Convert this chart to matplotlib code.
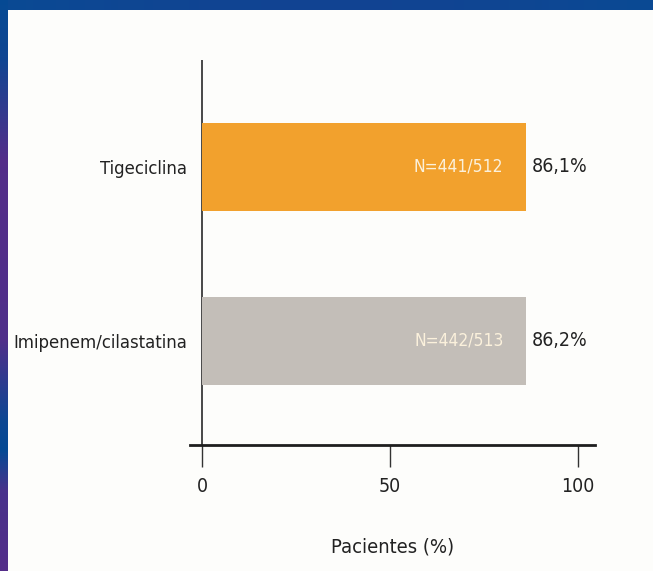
import matplotlib.pyplot as plt
import numpy as np

# datos
grupos = ['Imipenem/cilastatina', 'Tigeciclina']
porcentajes = [86.2, 86.1]
etiquetas_n = ['N=442/513', 'N=441/512']
colores = ['#c3beb8', '#f2a12d']

plt.rcParams['font.family'] = ['DejaVu Sans']
plt.rcParams['font.stretch'] = 'condensed'

W, H = 653, 571
fig = plt.figure(figsize=(W / 100, H / 100), dpi=100)
fig.patch.set_facecolor('#fdfdfb')

# marco azul: franja superior y lateral izquierda
top = fig.add_axes([0, 1 - 10 / H, 1, 10 / H])
gx = np.linspace(0, 1, 200)
k = (0.35 * np.sin(np.pi * gx))[:, None]
col_top = np.array([0.04, 0.29, 0.58]) * (1 - k) + np.array([0.12, 0.22, 0.56]) * k
top.imshow(col_top[None, :, :], aspect='auto', extent=[0, 1, 0, 1])
top.axis('off')

lado = fig.add_axes([0, 0, 8 / W, 1])
yy = np.arange(H)
mezcla = np.interp(yy, [0, 60, 160, 340, 420, 450, 490, 571],
                   [1, 0.85, 0.0, 0.05, 0.9, 1, 0.15, 0])[:, None]
azul = np.array([0.02, 0.29, 0.58])
morado = np.array([0.33, 0.18, 0.54])
col_lado = azul * mezcla + morado * (1 - mezcla)
lado.imshow(col_lado[:, None, :], aspect='auto', extent=[0, 1, 0, 1])
lado.axis('off')

# ejes del grafico
x0, x1 = 190, 595
y0, y1 = 445, 60
ax = fig.add_axes([x0 / W, 1 - y0 / H, (x1 - x0) / W, (y0 - y1) / H])
ax.set_facecolor('none')
ax.set_xlim(-3.2, 104.5)
ax.set_ylim(0.402, 2.615)

pos = np.arange(1, len(grupos) + 1)
ax.barh(pos, porcentajes, height=0.51, color=colores, zorder=2)

for p, v, n in zip(pos, porcentajes, etiquetas_n):
    ax.text(v - 6.0, p, n, ha='right', va='center', fontsize=12.5,
            color='#fbf1dc', zorder=3)
    ax.text(v + 1.6, p, f'{v:.1f}'.replace('.', ',') + '%', ha='left',
            va='center', fontsize=14, color='#222222')

ax.plot([0, 0], [0.402, 2.615], color='#3a3a3a', lw=1.3, zorder=1,
        solid_capstyle='butt')

for s in ['top', 'right', 'left']:
    ax.spines[s].set_visible(False)
ax.spines['bottom'].set_linewidth(2.0)
ax.spines['bottom'].set_color('#1e1e1e')

ax.set_xticks([0, 50, 100])
ax.set_xticklabels(['0', '50', '100'], fontsize=14, color='#222222')
ax.tick_params(axis='x', length=16, width=1.0, color='#333333', pad=7)
ax.set_yticks(pos)
ax.set_yticklabels(grupos, fontsize=13.2, color='#222222')
ax.tick_params(axis='y', length=0, pad=2.1)
ax.set_xlabel('Pacientes (%)', fontsize=14.5, color='#222222', labelpad=30)

fig.savefig('out.png', dpi=100)
